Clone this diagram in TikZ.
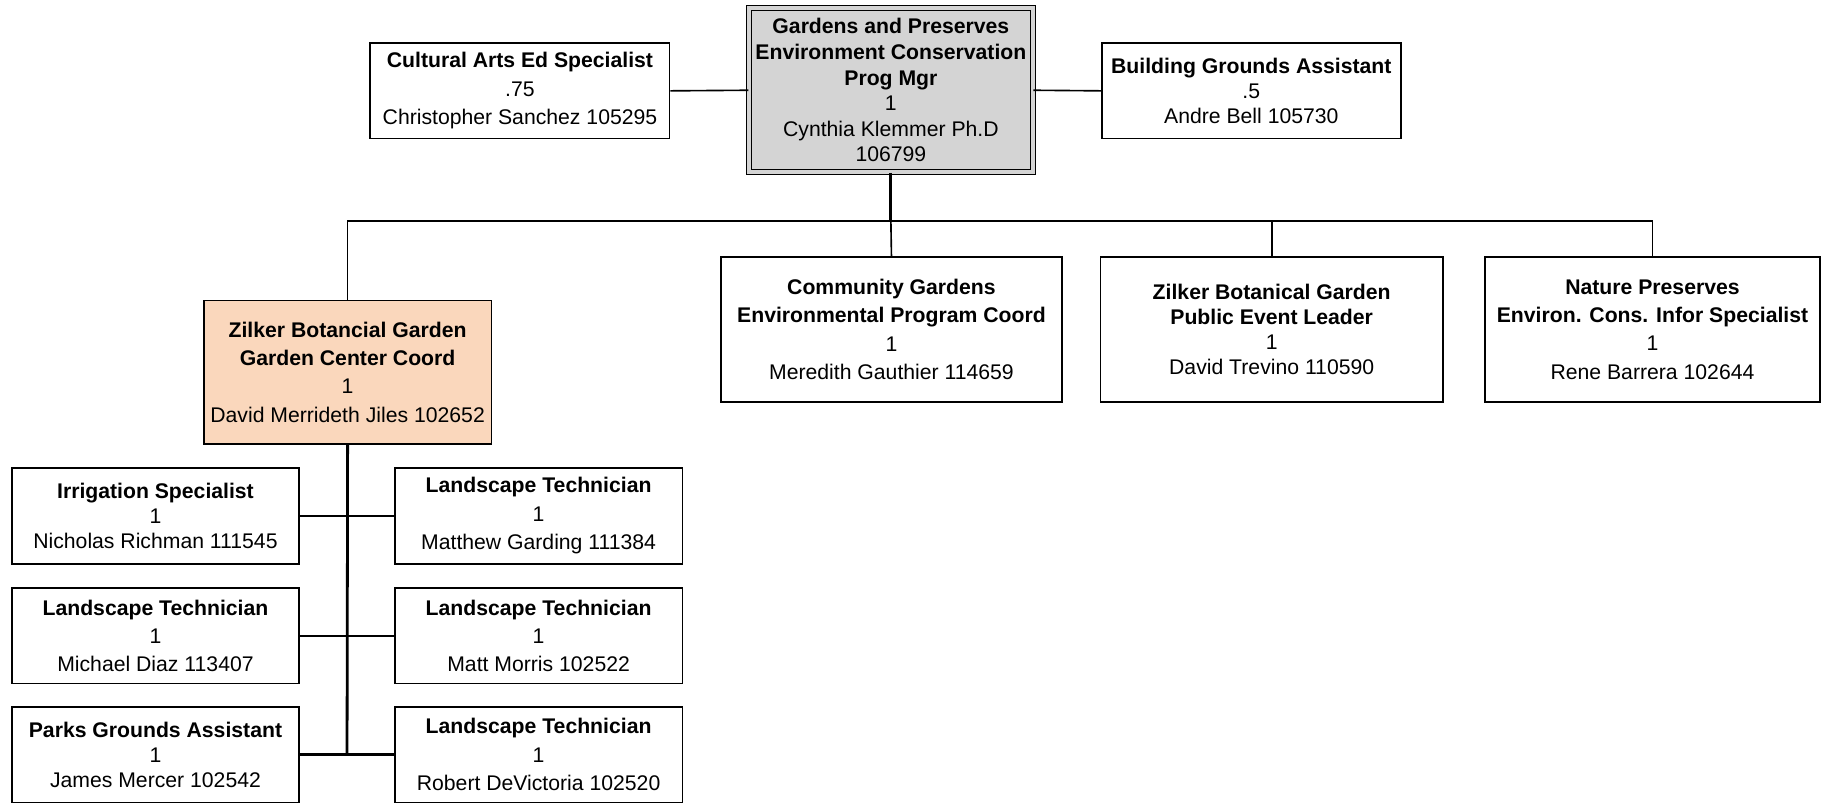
\documentclass[tikz,border=0pt]{standalone}
\usepackage{fontspec}
\setmainfont{Liberation Sans}
\definecolor{topgray}{HTML}{D4D4D4}
\definecolor{peach}{HTML}{FAD7BC}
\tikzset{
  box/.style={draw, line width=0.75pt, fill=white, inner sep=0pt, align=center,
    font=\fontsize{9.1}{12.2}\selectfont},
  tightbox/.style={box, font=\fontsize{9.1}{10.8}\selectfont},
  conn/.style={line width=0.7pt},
  thick conn/.style={line width=1.2pt},
  sw/.style={minimum width=123.5pt, minimum height=41pt},
}
\begin{document}
\begin{tikzpicture}[x=0.5pt,y=-0.5pt]
\useasboundingbox (0,0) rectangle (1568,690);
% top
\node[box, draw, double=topgray, double distance=1.6pt, line width=0.45pt, fill=topgray,
  minimum width=122pt, minimum height=70.5pt, font=\fontsize{9.1}{11}\selectfont]
  (top) at (765,77.5) {\textbf{Gardens and Preserves}\\\textbf{Environment Conservation}\\\textbf{Prog Mgr}\\1\\Cynthia Klemmer Ph.D\\106799};
\node[box, minimum width=128.5pt, minimum height=41pt] (cult) at (446.5,78)
  {\textbf{Cultural Arts Ed Specialist}\\.75\\Christopher Sanchez 105295};
\node[tightbox, minimum width=128.5pt, minimum height=41pt] (bldg) at (1074.5,78)
  {\textbf{Building Grounds Assistant}\\.5\\Andre Bell 105730};
% second level
\node[box, fill=peach, minimum width=123.5pt, minimum height=61.5pt] (gcc) at (298.5,319.5)
  {\textbf{Zilker Botancial Garden}\\\textbf{Garden Center Coord}\\1\\David Merrideth Jiles 102652};
\node[box, minimum width=146.5pt, minimum height=62pt] (comm) at (765.5,283)
  {\textbf{Community Gardens}\\\textbf{Environmental Program Coord}\\1\\Meredith Gauthier 114659};
\node[tightbox, minimum width=147pt, minimum height=62pt] (pel) at (1092,283)
  {\textbf{Zilker Botanical Garden}\\\textbf{Public Event Leader}\\1\\David Trevino 110590};
\node[box, minimum width=144pt, minimum height=62pt] (nat) at (1419,283)
  {\textbf{Nature Preserves}\\\textbf{Environ. Cons. Infor Specialist}\\1\\Rene Barrera 102644};
% third level
\node[tightbox, sw] (irr) at (133.5,443) {\textbf{Irrigation Specialist}\\1\\Nicholas Richman 111545};
\node[box, sw] (lt1) at (462.5,443) {\textbf{Landscape Technician}\\1\\Matthew Garding 111384};
\node[box, sw] (lt2) at (133.5,546) {\textbf{Landscape Technician}\\1\\Michael Diaz 113407};
\node[box, sw] (lt3) at (462.5,546) {\textbf{Landscape Technician}\\1\\Matt Morris 102522};
\node[tightbox, sw] (pga) at (133.5,648) {\textbf{Parks Grounds Assistant}\\1\\James Mercer 102542};
\node[box, sw] (lt4) at (462.5,648) {\textbf{Landscape Technician}\\1\\Robert DeVictoria 102520};
% connectors
\coordinate (bus) at (765,190);
\coordinate (sub) at (298,648);
\draw[conn] (cult.east) -- (top.west);
\draw[conn] (top.east) -- (bldg.west);
\draw[thick conn] (top.south) -- (bus);
\draw[conn] (bus) -| (gcc.north);
\draw[conn] (bus) -- (comm.north);
\draw[conn] (bus) -| (pel.north);
\draw[conn] (bus) -| (nat.north);
\draw[thick conn] (gcc.south) -- (sub);
\draw[conn] (irr.east) -- (lt1.west);
\draw[conn] (lt2.east) -- (lt3.west);
\draw[thick conn] (pga.east) -- (lt4.west);
\end{tikzpicture}
\end{document}
